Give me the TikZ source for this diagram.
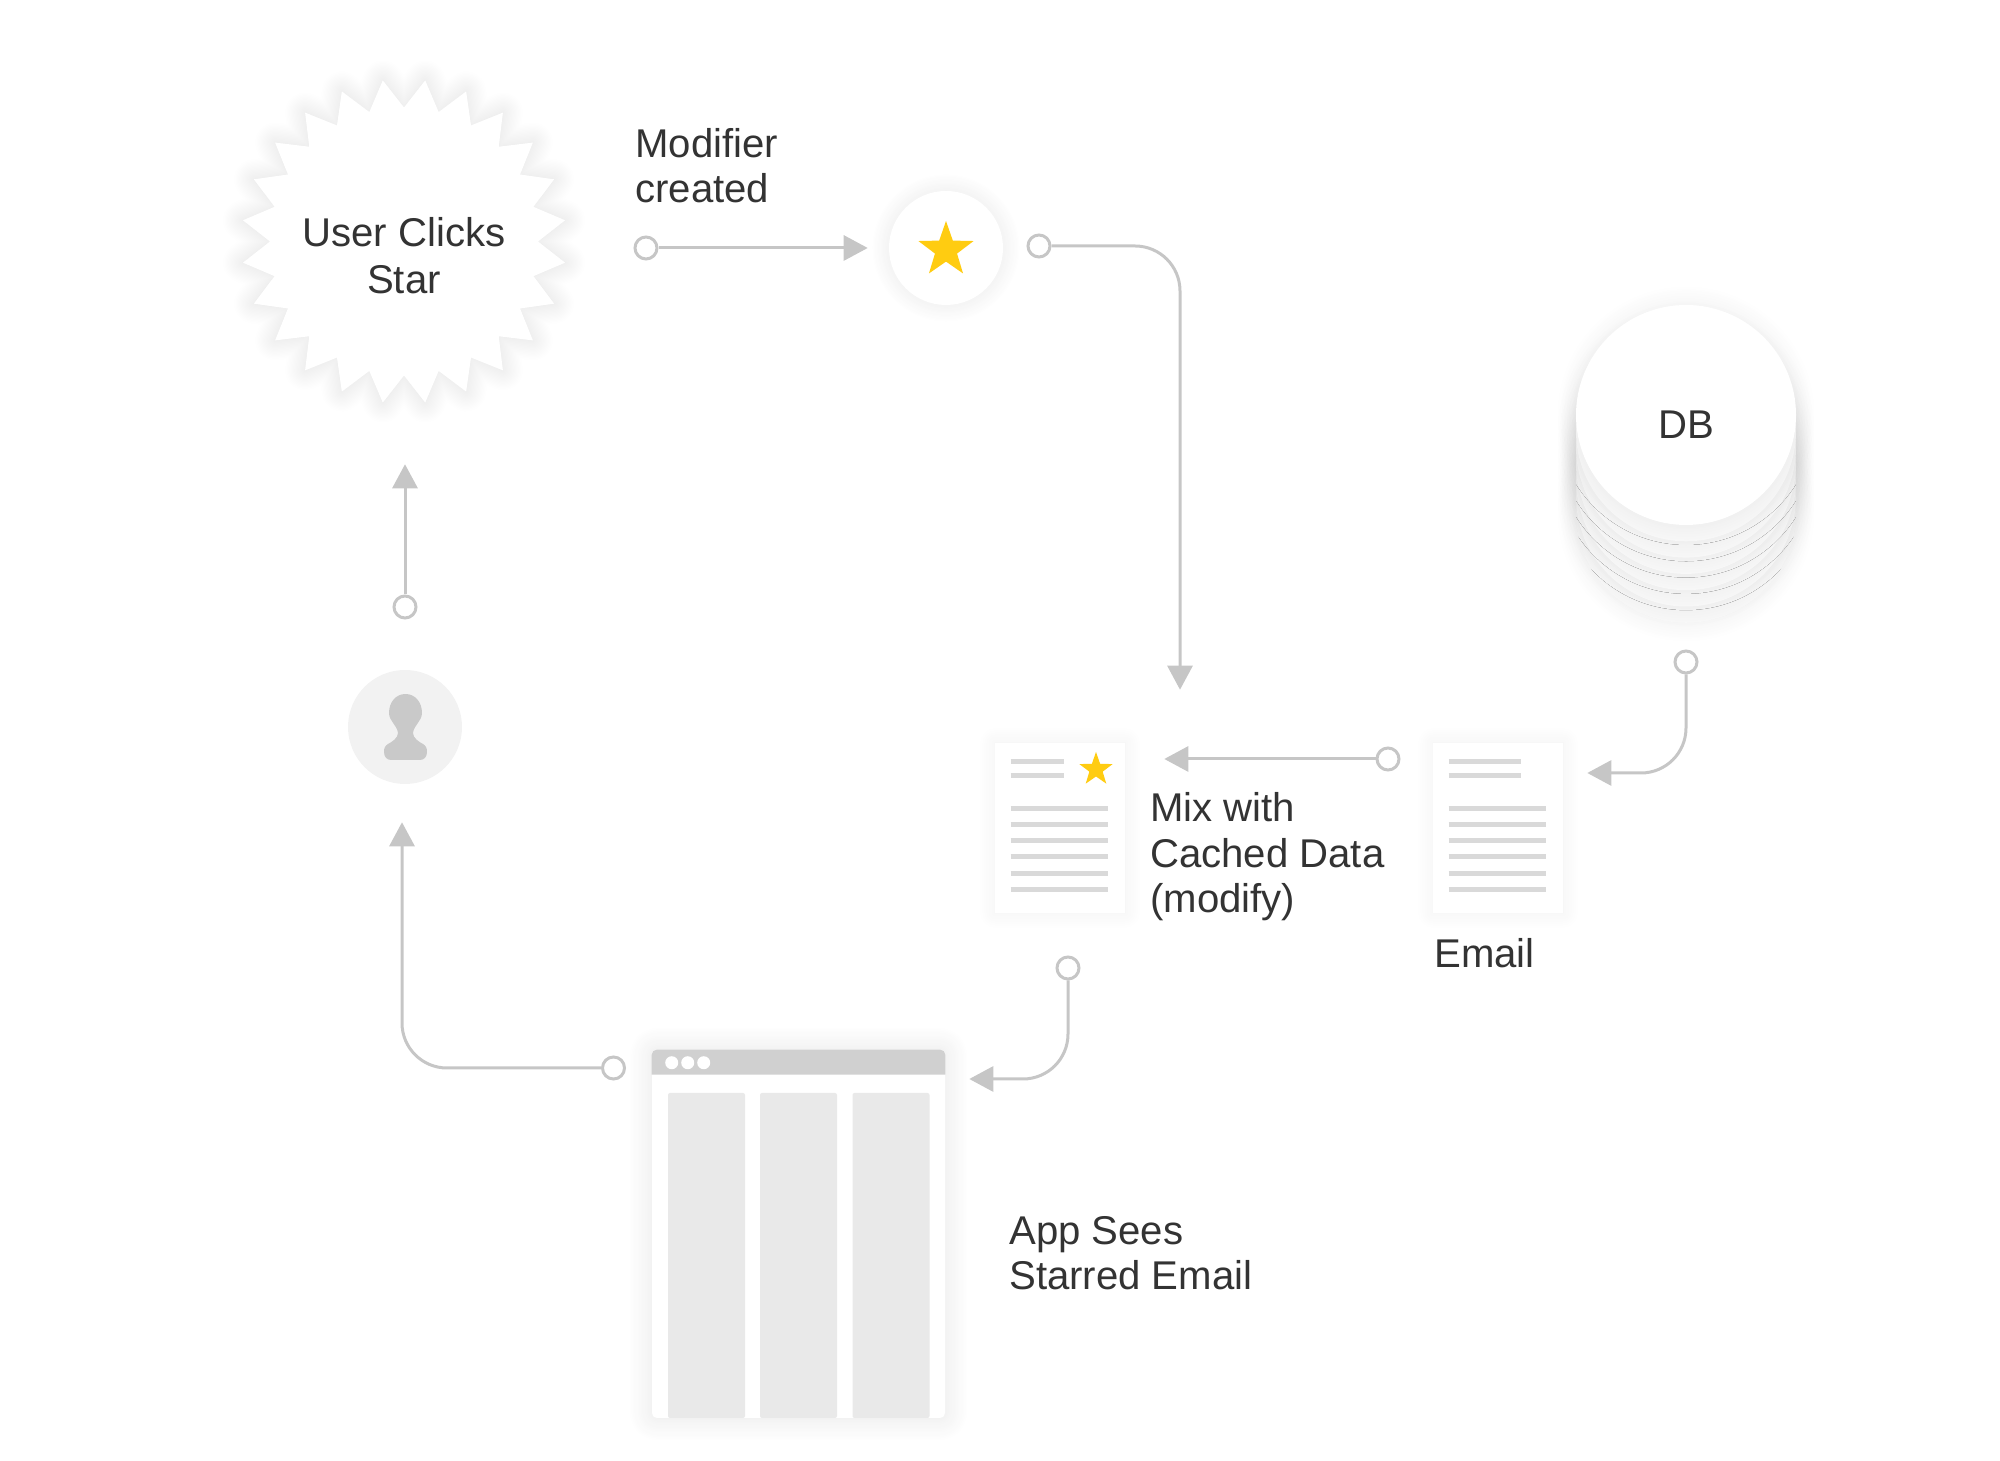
\documentclass[tikz,border=0pt]{standalone}
\usepackage{fontspec}
\setmainfont{Liberation Sans}
\usepackage{tikz}
\usetikzlibrary{arrows.meta, calc, positioning, shadows.blur, shapes.geometric}
\usepackage{xcolor}
\definecolor{Ink}{HTML}{333333}
\definecolor{Wire}{HTML}{C6C6C6}
\definecolor{Gold}{HTML}{FFCC11}
\definecolor{TextBar}{HTML}{D9D9D9}
\definecolor{TitleBar}{HTML}{D0D0D0}
\definecolor{Pane}{HTML}{E9E9E9}
\definecolor{Ghost}{HTML}{F2F2F2}
\definecolor{Bust}{HTML}{C9C9C9}
\definecolor{Rim}{HTML}{F9F9F9}
\tikzset{%
  on grid,%
  soft/.style 2 args={%
    blur shadow={%
      shadow xshift=0in,%
      shadow yshift=0in,%
      shadow blur steps=16,%
      shadow blur radius=#1,%
      shadow opacity=#2%
    }%
  },
  burst/.style={%
    star,%
    star points=24,%
    star point ratio=1.213,%
    shape border rotate=7.5,%
    minimum size=3.25in,%
    inner sep=0pt,%
    fill=white,%
    soft={0.2in}{13},%
  },
  badge/.style={%
    circle,%
    minimum size=1.14in,%
    inner sep=0pt,%
    fill=white,%
    soft={0.18in}{9},%
  },
  gold_star/.style={%
    star,%
    star points=5,%
    star point ratio=2.5,%
    inner sep=0pt,%
    fill=Gold,%
  },
  port/.style={%
    circle,%
    minimum size=0.22in,%
    inner sep=0pt,%
    draw=Wire,%
    line width=0.03in,%
  },
  tip/.style={%
    inner sep=0pt,%
    minimum size=0pt,%
  },
  link/.style={%
    color=Wire,%
    line width=0.03in,%
    rounded corners=0.45in,%
  },
  arrow/.style={-{Triangle[length=0.24in, width=0.25in, sep=0.02in]}},
  card/.style={%
    rectangle,%
    minimum width=1.30in,%
    minimum height=1.70in,%
    inner sep=0pt,%
    fill=white,%
    soft={0.16in}{6},%
  },
  text_bar/.style={%
    draw=TextBar,%
    line width=0.045in,%
  },
  window/.style={%
    rectangle,%
    rounded corners=0.05in,%
    minimum width=2.93in,%
    minimum height=3.68in,%
    inner sep=0pt,%
    fill=white,%
    soft={0.24in}{10},%
  },
  pane/.style={%
    rectangle,%
    rounded corners=0.02in,%
    minimum width=0.77in,%
    minimum height=3.25in,%
    inner sep=0pt,%
    fill=Pane,%
  },
  disc/.style={%
    circle,%
    minimum size=2.20in,%
    inner sep=0pt,%
    fill=white,%
    soft={0.2in}{7},%
  },
  caption/.style={%
    font={\fontsize{29}{33}\selectfont},%
    text=Ink,%
    inner sep=0pt,%
    align=left,%
    anchor=base west,%
  },
}
\begin{document}
\begin{tikzpicture}[x=1in, y=1in]
    \useasboundingbox (0,0) rectangle (20,14.61);

    \node [burst] (Burst) at (4.04,12.195) {};
    \node [caption, align=center, anchor=base] (BurstText) at (4.04,11.675) {User Clicks\\[1pt]Star};

    \node [badge, below right = 0.065 and 5.42 of Burst] (Modifier) {};
    \node [gold_star, minimum size=0.58in, below = 0.02 of Modifier] (ModifierStar) {};
    \node [port, left = 3.00 of Modifier] (ModifierIn) {};
    \node [tip, left = 0.76 of Modifier] (ModifierTip) {};
    \node [port, above right = 0.02 and 0.93 of Modifier] (ModifierOut) {};
    \node [caption] (ModifierText) at (6.35,12.58) {Modifier\\created};
    \node [tip, below right = 4.46 and 1.41 of ModifierOut] (CachedTop) {};

    \node [card, below left = 1.36 and 1.20 of CachedTop] (Cached) {};
    \node [card, right = 4.38 of Cached] (Email) {};
    \node [gold_star, minimum size=0.35in, above right = 0.585 and 0.36 of Cached] (CachedStar) {};
    \foreach \doc/\bar in {Cached/0.535, Email/0.72} {
      \foreach \y in {0.19, 0.33}
        \draw [text_bar] ([shift={(0.16,-\y)}]\doc.north west) -- ++(\bar,0);
      \foreach \y in {0.66, 0.82, 0.98, 1.14, 1.31, 1.47}
        \draw [text_bar] ([shift={(0.16,-\y)}]\doc.north west) -- ++(0.975,0);
    }
    \node [caption] (CachedText) at (11.50,5.48) {Mix with\\Cached Data\\(modify)};
    \node [caption] (EmailText) at (14.34,4.93) {Email};
    \node [port, above left = 0.69 and 1.10 of Email] (EmailOut) {};
    \node [tip, left = 2.26 of EmailOut] (CachedRight) {};

    \node [tip] (DBCenter) at (16.86,10.46) {};
    \foreach \i in {6,...,1}
      \node [disc, fill=Rim, below = \i*0.163 of DBCenter] (Disc\i) {};
    \node [disc] (DB) at (DBCenter) {};
    \node [caption, below = 0.24 of DB, anchor=base] (DBText) {DB};
    \node [port, below = 2.47 of DB] (DBOut) {};
    \node [tip, below left = 1.11 and 1.01 of DBOut] (EmailRight) {};

    \node [port, below right = 1.40 and 0.08 of Cached] (CachedOut) {};
    \node [tip, below left = 1.11 and 1.01 of CachedOut] (WindowRight) {};
    \node [window, below left = 2.66 and 2.695 of CachedOut] (Window) {};
    \fill [TitleBar] ([yshift=-0.25in]Window.north west) [rounded corners=0.05in] |- (Window.north east) [sharp corners] -- ([yshift=-0.25in]Window.north east) -- cycle;
    \foreach \i/\x in {1/0.20, 2/0.36, 3/0.52}
      \node [circle, fill=white, minimum size=0.13in, inner sep=0pt] (Dot\i) at ([shift={(\x,-0.13)}]Window.north west) {};
    \foreach \i/\x in {1/-0.92, 2/0, 3/0.925}
      \node [pane, below right = 0.215 and \x of Window] (Pane\i) {};
    \node [caption] (WindowText) at (10.09,1.71) {App Sees\\Starred Email};
    \node [port, above left = 1.66 and 1.85 of Window] (WindowOut) {};

    \node [tip, above left = 2.48 and 2.115 of WindowOut] (UserBottom) {};
    \node [circle, fill=Ghost, minimum size=1.14in, inner sep=0pt, below right = 4.855 and 0.01 of Burst] (User) {};
    \fill [Bust, shift={(User.center)}, x=0.01in, y=0.01in]
      (0.5,33)
      .. controls (10,33) and (17,25) .. (17,14)
      .. controls (17,6) and (9,2) .. (8,-6)
      .. controls (8,-11) and (14,-15) .. (18,-17)
      .. controls (21,-19) and (22,-21) .. (22,-25)
      .. controls (22,-30) and (19,-33) .. (15,-33)
      -- (-14,-33)
      .. controls (-18,-33) and (-21,-30) .. (-21,-25)
      .. controls (-21,-21) and (-20,-19) .. (-17,-17)
      .. controls (-13,-15) and (-7,-11) .. (-7,-6)
      .. controls (-8,2) and (-16,6) .. (-16,14)
      .. controls (-16,25) and (-9,33) .. (0.5,33)
      -- cycle;
    \node [port, above = 1.20 of User] (UserOut) {};
    \node [tip, above = 2.65 of User] (BurstBottom) {};

    \draw [arrow, link] (UserOut) -- (BurstBottom);
    \draw [arrow, link] (ModifierIn) -- (ModifierTip);
    \draw [arrow, link] (ModifierOut) -| (CachedTop);
    \draw [arrow, link] (DBOut) |- (EmailRight);
    \draw [arrow, link] (EmailOut) -- (CachedRight);
    \draw [arrow, link] (CachedOut) |- (WindowRight);
    \draw [arrow, link] (WindowOut) -| (UserBottom);
  \end{tikzpicture}
\end{document}
